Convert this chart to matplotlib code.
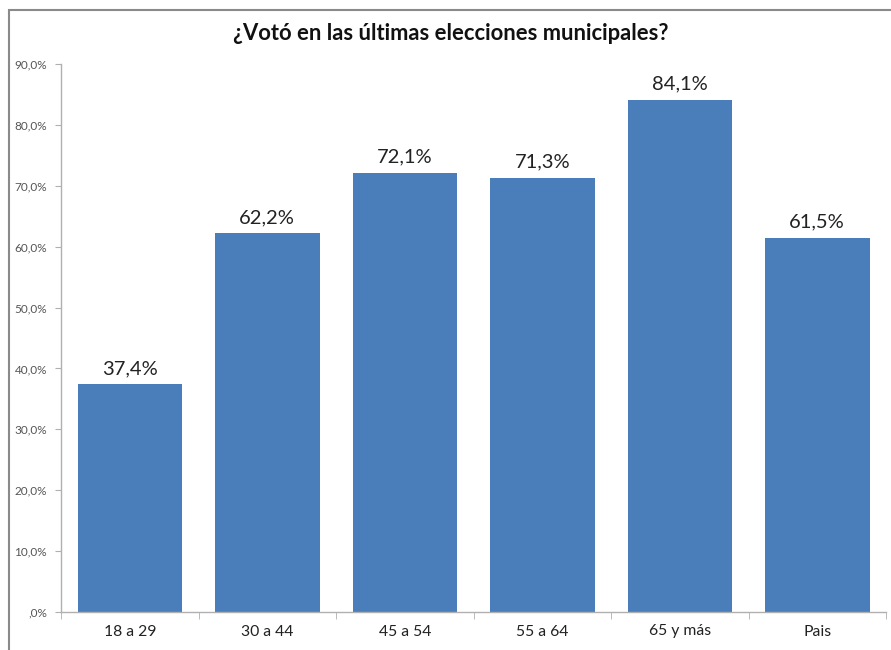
import matplotlib
matplotlib.use("Agg")
import matplotlib.pyplot as plt
from matplotlib.patches import Rectangle
from matplotlib.ticker import FuncFormatter, FixedLocator
import numpy as np

categories = ["18 a 29", "30 a 44", "45 a 54", "55 a 64", "65 y más", "Pais"]
values = [37.4, 62.2, 72.1, 71.3, 84.1, 61.5]
title = "¿Votó en las últimas elecciones municipales?"

plt.rcParams['font.family'] = ['Lato', 'DejaVu Sans']

fig = plt.figure(figsize=(8.91, 6.5), dpi=100)
ax = fig.add_axes([61/891, 1-612/650, (886-61)/891, (612-64)/650])

x = np.arange(len(categories))
ax.bar(x, values, width=0.76, color="#4a7ebb")
ax.set_xlim(-0.5, len(categories)-0.5)
ax.set_ylim(0, 90)

for xi, v in zip(x, values):
    ax.text(xi, v + 1.2, f"{v:.1f}%".replace(".", ","), ha="center", va="bottom",
            fontsize=14.5, color="#222222")

ax.set_yticks(np.arange(0, 91, 10))
def fmt(v, pos):
    s = f"{v:.1f}%".replace(".", ",")
    if s.startswith("0,"):
        s = s[1:]
    return s
ax.yaxis.set_major_formatter(FuncFormatter(fmt))
ax.tick_params(axis="y", labelsize=8.5, labelcolor="#555555", color="#b0b0b0",
               length=4, direction="out", pad=6)

ax.set_xticks(x)
ax.set_xticklabels(categories, fontsize=11.3, color="#222222")
ax.tick_params(axis="x", length=0, pad=9)
ax.xaxis.set_minor_locator(FixedLocator(np.arange(-0.5, len(categories), 1.0)))
ax.tick_params(axis="x", which="minor", length=5, color="#b0b0b0", direction="out")

for s in ["top", "right"]:
    ax.spines[s].set_visible(False)
for s in ["left", "bottom"]:
    ax.spines[s].set_color("#b0b0b0")
    ax.spines[s].set_linewidth(1.0)

fig.text(0.5 + 0.006, 1-33/650, title, ha="center", va="center", fontsize=15.8,
         fontweight="bold", color="#111111")

fig.patches.append(Rectangle((9/891, -0.05), 1.0, 1-10/650+0.05, transform=fig.transFigure,
                             fill=False, edgecolor="#8a8a8a", linewidth=1.5))

fig.savefig("out.png", dpi=100)
